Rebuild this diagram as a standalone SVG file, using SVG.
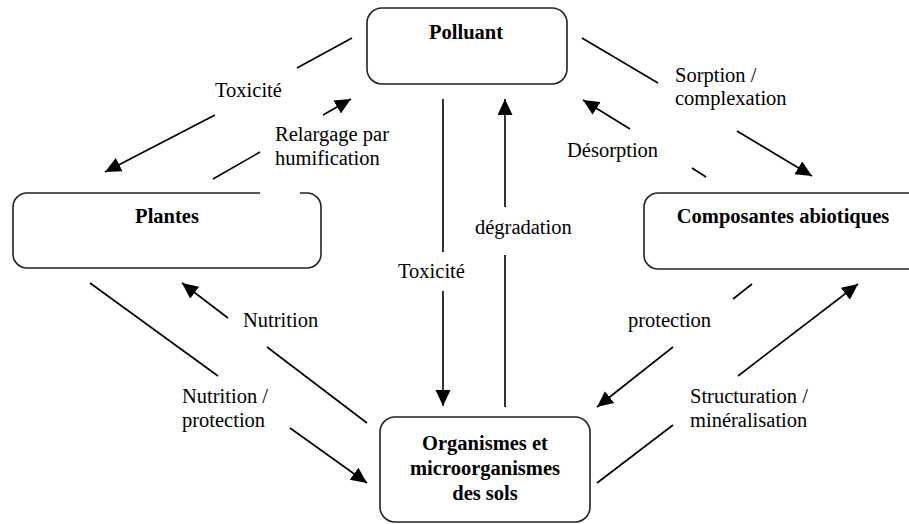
<svg xmlns="http://www.w3.org/2000/svg" width="909" height="524" viewBox="0 0 909 524">
<style>
.box{fill:#fff;stroke:#222;stroke-width:1.6}
.nt{font-family:"Liberation Serif","Times New Roman",serif;font-size:20.5px;font-weight:bold;fill:#000;text-anchor:middle}
.lb{font-family:"Liberation Serif","Times New Roman",serif;font-size:20.5px;fill:#000}
.ln{stroke:#000;stroke-width:1.6;fill:none}
.ar{marker-end:url(#ah)}
</style>
<defs>
<marker id="ah" markerUnits="userSpaceOnUse" markerWidth="17" markerHeight="16" refX="16" refY="7.5" orient="auto" viewBox="0 0 17 16">
<path d="M0,0 L16,7.5 L0,15 z" fill="#000"/>
</marker>
</defs>
<rect width="909" height="524" fill="#fff"/>
<g id="polluant">
<rect class="box" x="367" y="8" width="200" height="76" rx="15"/>
<text class="nt" x="466" y="39">Polluant</text>
</g>
<g id="plantes">
<path class="box" d="M260 193 L27 193 A14 14 0 0 0 13 207 L13 254 A14 14 0 0 0 27 268 L307 268 A14 14 0 0 0 321 254 L321 207 A14 14 0 0 0 307 193 L300 193"/>
<text class="nt" x="167" y="223">Plantes</text>
</g>
<g id="composantes">
<rect class="box" x="644" y="193" width="300" height="76" rx="14"/>
<text class="nt" x="783" y="223">Composantes abiotiques</text>
</g>
<g id="organismes">
<rect class="box" x="380" y="417" width="210" height="105" rx="15"/>
<text class="nt" x="485" y="450">Organismes et</text>
<text class="nt" x="485" y="475">microorganismes</text>
<text class="nt" x="485" y="500">des sols</text>
</g>
<g id="connectors">
<line class="ln" x1="352" y1="38" x2="297" y2="68"/>
<line class="ln ar" x1="215" y1="115" x2="105" y2="172"/>
<line class="ln" x1="213" y1="179" x2="260" y2="152"/>
<line class="ln ar" x1="323" y1="115" x2="351" y2="99"/>
<line class="ln" x1="582" y1="38" x2="658" y2="83"/>
<line class="ln ar" x1="737" y1="131" x2="812" y2="176"/>
<line class="ln" x1="706" y1="177" x2="692" y2="168"/>
<line class="ln ar" x1="630" y1="129" x2="583" y2="100"/>
<line class="ln" x1="443" y1="99" x2="443" y2="252"/>
<line class="ln ar" x1="443" y1="291" x2="443" y2="406"/>
<line class="ln" x1="505" y1="407" x2="505" y2="255"/>
<line class="ln ar" x1="505" y1="207" x2="505" y2="99"/>
<line class="ln" x1="367" y1="423" x2="267" y2="347"/>
<line class="ln ar" x1="228" y1="318" x2="182" y2="283"/>
<line class="ln" x1="90" y1="283" x2="218" y2="376"/>
<line class="ln ar" x1="290" y1="428" x2="367" y2="483"/>
<line class="ln" x1="752" y1="284" x2="733" y2="299"/>
<line class="ln ar" x1="673" y1="347" x2="597" y2="407"/>
<line class="ln" x1="597" y1="483" x2="673" y2="425"/>
<line class="ln ar" x1="738" y1="376" x2="858" y2="284"/>
</g>
<g id="labels">
<text class="lb" x="215" y="97">Toxicité</text>
<text class="lb" x="275" y="141">Relargage par</text>
<text class="lb" x="275" y="165">humification</text>
<text class="lb" x="675" y="82">Sorption /</text>
<text class="lb" x="675" y="105">complexation</text>
<text class="lb" x="567" y="157">Désorption</text>
<text class="lb" x="398" y="278">Toxicité</text>
<text class="lb" x="475" y="234">dégradation</text>
<text class="lb" x="243" y="327">Nutrition</text>
<text class="lb" x="182" y="403">Nutrition /</text>
<text class="lb" x="182" y="427">protection</text>
<text class="lb" x="628" y="327">protection</text>
<text class="lb" x="690" y="403">Structuration /</text>
<text class="lb" x="690" y="427">minéralisation</text>
</g>
</svg>
